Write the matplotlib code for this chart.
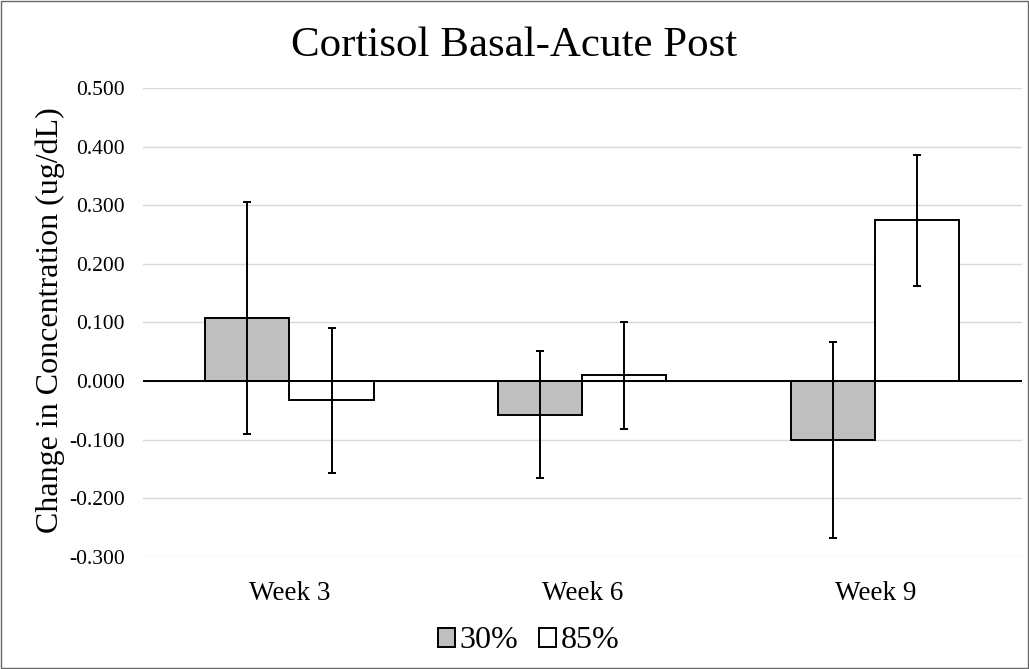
import matplotlib
matplotlib.use("Agg")
import matplotlib.pyplot as plt
from matplotlib.patches import Rectangle
import numpy as np

plt.rcParams['font.family'] = ['Liberation Serif', 'DejaVu Serif']

categories = ["Week 3", "Week 6", "Week 9"]
series_names = ["30%", "85%"]
values_30 = [0.108, -0.057, -0.100]
errors_30 = [0.198, 0.108, 0.167]
values_85 = [-0.033, 0.010, 0.274]
errors_85 = [0.124, 0.091, 0.111]
yticks = [-0.3, -0.2, -0.1, 0.0, 0.1, 0.2, 0.3, 0.4, 0.5]

fig = plt.figure(figsize=(10.29, 6.69), dpi=100)
ax = fig.add_axes([0.139, 0.1674, 0.854, 0.7011])

x = np.arange(len(categories))
w = 0.287
ax.bar(x - w/2, values_30, w, color='#bfbfbf', edgecolor='black', linewidth=1.4,
       yerr=errors_30, error_kw=dict(ecolor='black', elinewidth=1.4, capsize=3, capthick=1.4),
       label=series_names[0], zorder=3)
ax.bar(x + w/2, values_85, w, color='white', edgecolor='black', linewidth=1.4,
       yerr=errors_85, error_kw=dict(ecolor='black', elinewidth=1.4, capsize=3, capthick=1.4),
       label=series_names[1], zorder=3)

ax.axhline(0, color='black', linewidth=1.4, zorder=4)
ax.set_xlim(-0.5, 2.5)
ax.set_ylim(-0.3, 0.5)
ax.set_yticks(yticks)
ax.set_yticklabels([f"{v:.3f}" for v in yticks], fontsize=15.5)
ax.set_xticks(x)
ax.set_xticklabels(categories, fontsize=19.5)
ax.tick_params(axis='y', length=0, pad=13)
ax.tick_params(axis='x', length=0, pad=17)
ax.yaxis.grid(True, color='#d9d9d9', linewidth=1.0, zorder=0)
ax.set_axisbelow(True)
for s in ax.spines.values():
    s.set_visible(False)

ax.set_ylabel("Change in Concentration (ug/dL)", fontsize=23)
ax.yaxis.set_label_coords(50 / 1029, 0.5, transform=fig.transFigure)
ax.yaxis.label.set_va('center')
ax.yaxis.label.set_position((50 / 1029, 1 - 320 / 669))

fig.text(0.5, 0.931, "Cortisol Basal-Acute Post", ha='center', va='center', fontsize=31)

leg = fig.legend(loc='center', bbox_to_anchor=(0.514, 0.042), ncol=2, frameon=False,
                 fontsize=23, handlelength=0.53, handleheight=0.53, handletextpad=0.15,
                 columnspacing=0.65, borderpad=0.2)

fig.add_artist(Rectangle((0.001, 0.001), 0.998, 0.997, transform=fig.transFigure,
                         fill=False, edgecolor='#666666', linewidth=1.0))

fig.savefig("out.png", dpi=100)
